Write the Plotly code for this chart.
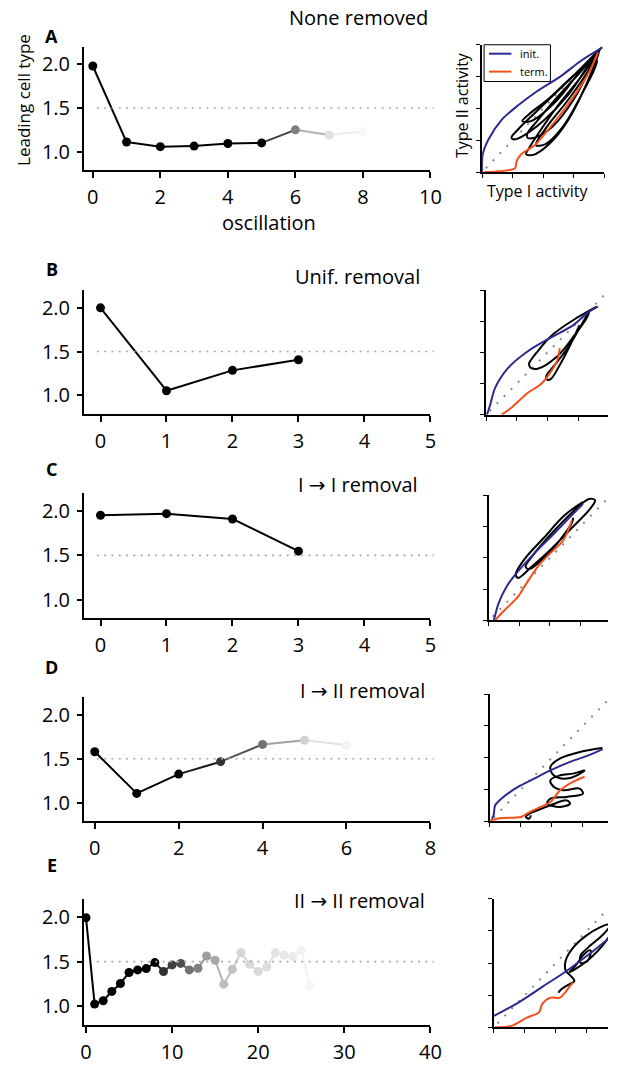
import plotly.graph_objects as go

W, H = 619, 1065
FONT = "Open Sans"

# ---- leading cell type per oscillation (left column) ----
osc_none = [0, 1, 2, 3, 4, 5, 6, 7, 8]
lead_none = [1.98, 1.11, 1.057, 1.064, 1.094, 1.10, 1.25, 1.19, 1.23]
shade_none = [1, 1, 1, 1, 1, 1, 0.5, 0.12, 0.03]

osc_unif = [0, 1, 2, 3]
lead_unif = [2.0, 1.052, 1.285, 1.407]
shade_unif = [1, 1, 1, 1]

osc_i_i = [0, 1, 2, 3]
lead_i_i = [1.952, 1.97, 1.91, 1.548]
shade_i_i = [1, 1, 1, 1]

osc_i_ii = [0, 1, 2, 3, 4, 5, 6]
lead_i_ii = [1.58, 1.107, 1.326, 1.467, 1.663, 1.71, 1.656]
shade_i_ii = [1, 1, 1, 0.8, 0.55, 0.18, 0.05]

osc_ii_ii = [0, 1, 2, 3, 4, 5, 6, 7, 8, 9, 10, 11, 12, 13, 14, 15, 16, 17, 18,
             19, 20, 21, 22, 23, 24, 25, 26]
lead_ii_ii = [1.99, 1.026, 1.063, 1.167, 1.256, 1.378, 1.407, 1.422, 1.489,
              1.389, 1.463, 1.48, 1.407, 1.426, 1.563, 1.515, 1.248, 1.415,
              1.60, 1.47, 1.389, 1.44, 1.60, 1.574, 1.556, 1.626, 1.23]
shade_ii_ii = [1, 1, 1, 1, 1, 1, 1, 1, 1, 0.8, 0.75, 0.7, 0.55, 0.5, 0.38,
               0.34, 0.26, 0.24, 0.17, 0.15, 0.15, 0.13, 0.11, 0.09, 0.08,
               0.06, 0.04]

y_ticks = [1.0, 1.5, 2.0]
y_labels = ["1.0", "1.5", "2.0"]

# ---- phase portraits: Type I activity vs Type II activity (right column) ----
# None removed
init_none_x = [0.0, 0.005, 0.054, 0.16, 0.29, 0.45, 0.64, 0.82, 0.985]
init_none_y = [0.0, 0.14, 0.26, 0.41, 0.52, 0.635, 0.75, 0.88, 0.977]
term_none_x = [0.02, 0.12, 0.22, 0.27, 0.285, 0.32, 0.43, 0.53, 0.64, 0.77, 0.88, 0.95]
term_none_y = [0.0, 0.005, 0.015, 0.03, 0.09, 0.14, 0.21, 0.32, 0.45, 0.62, 0.79, 0.94]
osc_none_x = [0.98, 0.70, 0.45, 0.30, 0.24, 0.26, 0.33, 0.50, 0.70, 0.90, 0.97,
              0.80, 0.60, 0.45, 0.37, 0.37, 0.43, 0.58, 0.75, 0.92, 0.97,
              0.82, 0.62, 0.48, 0.38, 0.36, 0.42, 0.55, 0.70, 0.85, 0.96,
              0.86, 0.70, 0.55, 0.45, 0.44, 0.52, 0.65, 0.80, 0.94,
              0.80, 0.55, 0.38, 0.33, 0.40, 0.60, 0.85, 0.98]
osc_none_y = [0.98, 0.71, 0.48, 0.34, 0.27, 0.255, 0.28, 0.40, 0.60, 0.88, 0.97,
              0.78, 0.57, 0.40, 0.30, 0.27, 0.27, 0.36, 0.57, 0.88, 0.97,
              0.76, 0.52, 0.33, 0.18, 0.14, 0.135, 0.22, 0.40, 0.68, 0.95,
              0.78, 0.56, 0.38, 0.24, 0.21, 0.22, 0.34, 0.58, 0.88,
              0.80, 0.58, 0.45, 0.40, 0.40, 0.55, 0.85, 0.98]

# Uniform removal
init_unif_x = [0.008, 0.034, 0.074, 0.18, 0.34, 0.52, 0.71, 0.84, 0.91]
init_unif_y = [0.0, 0.08, 0.216, 0.376, 0.51, 0.616, 0.72, 0.83, 0.87]
term_unif_x = [0.127, 0.206, 0.34, 0.44, 0.51, 0.577, 0.60]
term_unif_y = [0.0, 0.056, 0.176, 0.24, 0.32, 0.43, 0.536]
osc_unif_x = [0.90, 0.74, 0.55, 0.42, 0.35, 0.36, 0.42, 0.58, 0.72, 0.82, 0.84,
              0.78, 0.68, 0.56, 0.49, 0.50, 0.53, 0.60, 0.68, 0.76]
osc_unif_y = [0.87, 0.78, 0.65, 0.51, 0.41, 0.38, 0.37, 0.47, 0.64, 0.78, 0.83,
              0.73, 0.56, 0.40, 0.31, 0.28, 0.29, 0.40, 0.55, 0.72]

# I -> I removal
init_i_i_x = [0.04, 0.08, 0.144, 0.224, 0.37, 0.53, 0.664, 0.77]
init_i_i_y = [0.0, 0.14, 0.27, 0.376, 0.534, 0.69, 0.825, 0.93]
term_i_i_x = [0.05, 0.104, 0.158, 0.238, 0.29, 0.344, 0.40, 0.50, 0.61, 0.68]
term_i_i_y = [0.0, 0.06, 0.11, 0.19, 0.27, 0.35, 0.43, 0.534, 0.64, 0.80]
osc_i_i_x = [0.77, 0.62, 0.45, 0.30, 0.22, 0.24, 0.34, 0.50, 0.68, 0.82, 0.87,
             0.82, 0.68, 0.50, 0.36, 0.30, 0.33, 0.45, 0.58, 0.68, 0.69]
osc_i_i_y = [0.944, 0.84, 0.66, 0.50, 0.37, 0.34, 0.42, 0.56, 0.74, 0.88, 0.96,
             0.97, 0.86, 0.68, 0.52, 0.43, 0.41, 0.50, 0.64, 0.78, 0.82]

# I -> II removal
init_i_ii_x = [0.016, 0.03, 0.042, 0.094, 0.226, 0.357, 0.488, 0.646, 0.80, 0.91]
init_i_ii_y = [0.02, 0.05, 0.126, 0.18, 0.27, 0.336, 0.40, 0.467, 0.52, 0.567]
term_i_ii_x = [0.003, 0.094, 0.25, 0.32, 0.41, 0.488, 0.567, 0.67, 0.764]
term_i_ii_y = [0.008, 0.026, 0.034, 0.073, 0.113, 0.152, 0.244, 0.31, 0.35]
osc_i_ii_x = [0.908, 0.75, 0.567, 0.488, 0.514, 0.619, 0.75, 0.763, 0.672, 0.567,
              0.488, 0.514, 0.593, 0.724, 0.75, 0.619, 0.488, 0.462, 0.567,
              0.646, 0.619, 0.488, 0.383, 0.318, 0.29, 0.318, 0.33]
osc_i_ii_y = [0.577, 0.551, 0.494, 0.428, 0.362, 0.336, 0.388, 0.40, 0.375,
              0.362, 0.323, 0.271, 0.244, 0.257, 0.218, 0.192, 0.178, 0.139,
              0.113, 0.139, 0.165, 0.126, 0.087, 0.060, 0.034, 0.021, 0.047]

# II -> II removal
init_ii_ii_x = [0.0, 0.195, 0.40, 0.59, 0.77, 0.90, 1.0]
init_ii_ii_y = [0.088, 0.19, 0.32, 0.44, 0.57, 0.67, 0.74]
term_ii_ii_x = [0.01, 0.14, 0.27, 0.365, 0.39, 0.457, 0.535, 0.575, 0.614, 0.64]
term_ii_ii_y = [0.0, 0.01, 0.076, 0.115, 0.18, 0.23, 0.23, 0.27, 0.32, 0.35]
osc_ii_ii_x = [0.52, 0.55, 0.60, 0.65, 0.62, 0.58, 0.58, 0.64, 0.74, 0.86,
               0.93, 0.95, 0.88, 0.78, 0.67, 0.61, 0.66, 0.72, 0.78, 0.76,
               0.70, 0.70, 0.76, 0.88, 0.95]
osc_ii_ii_y = [0.27, 0.30, 0.33, 0.36, 0.40, 0.44, 0.52, 0.62, 0.71, 0.78,
               0.80, 0.75, 0.64, 0.54, 0.46, 0.43, 0.48, 0.56, 0.60, 0.52,
               0.50, 0.56, 0.62, 0.72, 0.80]

diag = [0.03, 0.97]

BLUE = "#2b2a8e"
ORANGE = "#f5501c"


def xdom(a, b):
    return [a / W, b / W]


def ydom(top, bottom):
    return [1 - bottom / H, 1 - top / H]


def grey(a):
    g = round(255 * (1 - a))
    return f"rgb({g},{g},{g})"


left_panels = [
    dict(osc=osc_none, lead=lead_none, shade=shade_none, xr=[-0.26, 10],
         ticks=[0, 2, 4, 6, 8, 10], top=47, bot=171),
    dict(osc=osc_unif, lead=lead_unif, shade=shade_unif, xr=[-0.25, 5],
         ticks=[0, 1, 2, 3, 4, 5], top=292, bot=416),
    dict(osc=osc_i_i, lead=lead_i_i, shade=shade_i_i, xr=[-0.25, 5],
         ticks=[0, 1, 2, 3, 4, 5], top=496, bot=622),
    dict(osc=osc_i_ii, lead=lead_i_ii, shade=shade_i_ii, xr=[-0.256, 8],
         ticks=[0, 2, 4, 6, 8], top=701, bot=826),
    dict(osc=osc_ii_ii, lead=lead_ii_ii, shade=shade_ii_ii, xr=[-0.23, 40],
         ticks=[0, 10, 20, 30, 40], top=904, bot=1031),
]

right_panels = [
    dict(x0=490, x1=615, top=45, bot=173, scale=125,
         init=(init_none_x, init_none_y), term=(term_none_x, term_none_y),
         osc=(osc_none_x, osc_none_y)),
    dict(x0=494, x1=619, top=292, bot=417, scale=126,
         init=(init_unif_x, init_unif_y), term=(term_unif_x, term_unif_y),
         osc=(osc_unif_x, osc_unif_y)),
    dict(x0=497, x1=619, top=498, bot=624, scale=125,
         init=(init_i_i_x, init_i_i_y), term=(term_i_i_x, term_i_i_y),
         osc=(osc_i_i_x, osc_i_i_y)),
    dict(x0=498, x1=619, top=698, bot=826, scale=127,
         init=(init_i_ii_x, init_i_ii_y), term=(term_i_ii_x, term_i_ii_y),
         osc=(osc_i_ii_x, osc_i_ii_y)),
    dict(x0=502, x1=619, top=904, bot=1033, scale=127,
         init=(init_ii_ii_x, init_ii_ii_y), term=(term_ii_ii_x, term_ii_ii_y),
         osc=(osc_ii_ii_x, osc_ii_ii_y)),
]

fig = go.Figure()
layout = dict(
    width=W, height=H, margin=dict(l=0, r=0, t=0, b=0),
    paper_bgcolor="white", plot_bgcolor="white",
    font=dict(family=FONT, color="black"),
    showlegend=False,
)
shapes = []


def axis_names(k):
    s = "" if k == 1 else str(k)
    return "x" + s, "y" + s, "xaxis" + s, "yaxis" + s


# left column: leading cell type per oscillation
for i, p in enumerate(left_panels):
    k = i + 1
    xn, yn, xa, ya = axis_names(k)
    osc, lead, shade = p["osc"], p["lead"], p["shade"]
    for j in range(len(osc) - 1):
        a = (shade[j] + shade[j + 1]) / 2
        fig.add_trace(go.Scatter(
            x=[osc[j], osc[j + 1]], y=[lead[j], lead[j + 1]], mode="lines",
            line=dict(color=grey(a), width=2),
            xaxis=xn, yaxis=yn, hoverinfo="skip"))
    fig.add_trace(go.Scatter(
        x=osc, y=lead, mode="markers",
        marker=dict(size=9, color=[grey(a) for a in shade], line=dict(width=0)),
        xaxis=xn, yaxis=yn))
    layout[xa] = dict(
        domain=xdom(82, 437), anchor=yn, range=p["xr"], tickvals=p["ticks"],
        showline=True, linewidth=2, linecolor="black", ticks="outside",
        ticklen=6, tickwidth=1.5, tickcolor="black", showgrid=False,
        zeroline=False, tickfont=dict(size=20, family=FONT),
        ticklabelstandoff=2)
    layout[ya] = dict(
        domain=ydom(p["top"], p["bot"]), anchor=xn, range=[0.79, 2.2],
        tickvals=y_ticks, ticktext=y_labels, showline=True, linewidth=2,
        linecolor="black", ticks="outside", ticklen=5, tickwidth=1.5,
        tickcolor="black", showgrid=False, zeroline=False,
        tickfont=dict(size=20, family=FONT), ticklabelstandoff=3)
    shapes.append(dict(
        type="line", xref=f"{xn} domain", yref=yn, x0=0.037, x1=1.01,
        y0=1.5, y1=1.5, line=dict(color="#a9a9a9", width=1.6, dash="2px,5.3px")))

# right column: phase portraits
for i, p in enumerate(right_panels):
    k = i + 6
    xn, yn, xa, ya = axis_names(k)
    fig.add_trace(go.Scatter(
        x=diag, y=diag, mode="lines",
        line=dict(color="#8a8a8a", width=2, dash="2px,8px"),
        xaxis=xn, yaxis=yn, hoverinfo="skip"))
    fig.add_trace(go.Scatter(
        x=p["osc"][0], y=p["osc"][1], mode="lines",
        line=dict(color="black", width=2, shape="spline", smoothing=1.0),
        xaxis=xn, yaxis=yn, hoverinfo="skip"))
    fig.add_trace(go.Scatter(
        x=p["init"][0], y=p["init"][1], mode="lines", name="init.",
        line=dict(color=BLUE, width=2, shape="spline", smoothing=0.8),
        xaxis=xn, yaxis=yn, hoverinfo="skip"))
    fig.add_trace(go.Scatter(
        x=p["term"][0], y=p["term"][1], mode="lines", name="term.",
        line=dict(color=ORANGE, width=2, shape="spline", smoothing=0.8),
        xaxis=xn, yaxis=yn, hoverinfo="skip"))
    xmax = (p["x1"] - p["x0"]) / p["scale"]
    layout[xa] = dict(
        domain=xdom(p["x0"], p["x1"]), anchor=yn, range=[0, xmax],
        tickvals=[0, 0.25, 0.5, 0.75, 1.0], showticklabels=False,
        showline=True, linewidth=2, linecolor="black", ticks="outside",
        ticklen=4, tickwidth=1, tickcolor="black", showgrid=False,
        zeroline=False)
    layout[ya] = dict(
        domain=ydom(p["top"], p["bot"]), anchor=xn, range=[0, 1],
        tickvals=[0, 0.25, 0.5, 0.75, 1.0], showticklabels=False,
        showline=True, linewidth=2, linecolor="black", ticks="outside",
        ticklen=4, tickwidth=1, tickcolor="black", showgrid=False,
        zeroline=False)

annotations = []


def note(text, x, y, size, bold=False, angle=0, anchor="center"):
    annotations.append(dict(
        text=f"<b>{text}</b>" if bold else text, xref="paper", yref="paper",
        x=x / W, y=1 - y / H, xanchor=anchor, yanchor="middle",
        showarrow=False, textangle=angle,
        font=dict(size=size, family=FONT, color="black")))


# key for the init./term. trajectories in the first phase portrait
shapes.append(dict(type="rect", xref="paper", yref="paper",
                   x0=492 / W, x1=560 / W, y0=1 - 82 / H, y1=1 - 45 / H,
                   fillcolor="white", line=dict(color="black", width=1),
                   layer="above"))
for color, label, y in [(BLUE, "init.", 54), (ORANGE, "term.", 72)]:
    shapes.append(dict(type="line", xref="paper", yref="paper",
                       x0=497 / W, x1=520 / W, y0=1 - y / H, y1=1 - y / H,
                       line=dict(color=color, width=2), layer="above"))
    note(label, 527, y, 11, anchor="left")

ARROW = '<span style="font-family:\'DejaVu Sans\'">\u2192</span>'
panel_titles = [("None removed", 363, 18), ("Unif. removal", 362, 278),
                (f"I {ARROW} I removal", 363, 487),
                (f"I {ARROW} II removal", 367, 694),
                (f"II {ARROW} II removal", 364, 906)]
for t, x, y in panel_titles:
    note(t, x, y, 20)

for letter, y in [("A", 36), ("B", 271), ("C", 472), ("D", 671), ("E", 870)]:
    note(letter, 49, y, 18, bold=True)

note("Leading cell type", 20, 101, 17, angle=-90)
note("oscillation", 272, 224, 20)
note("Type II activity", 470, 106, 16, angle=-90)
note("Type I activity", 547, 192, 16)

layout["annotations"] = annotations
layout["shapes"] = shapes
fig.update_layout(**layout)

fig.write_html("out.html")
